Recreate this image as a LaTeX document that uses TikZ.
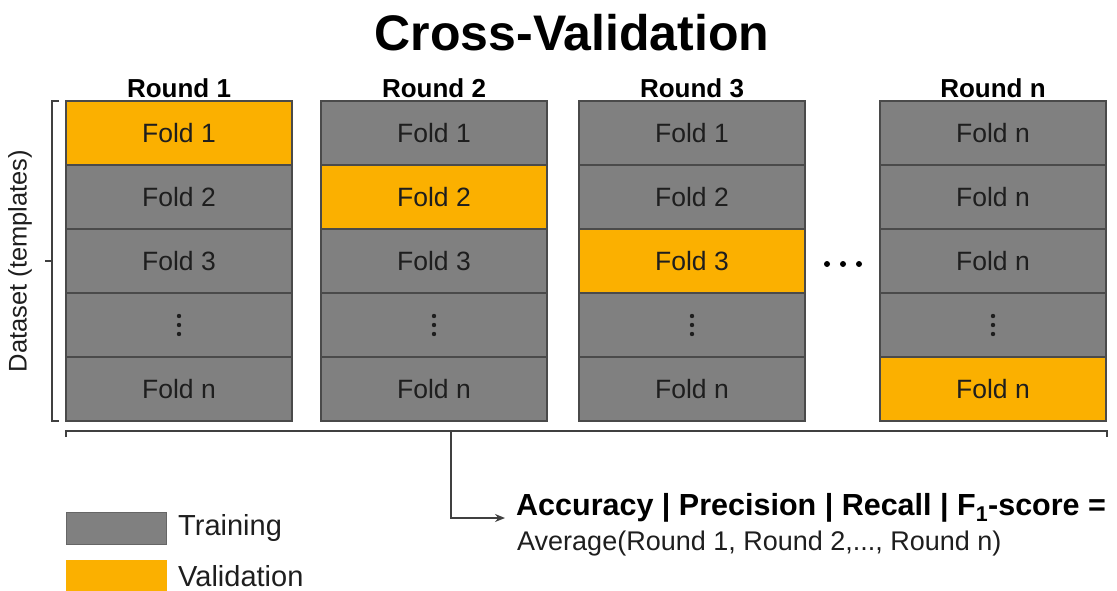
\documentclass[tikz,border=0pt]{standalone}
\usepackage{fontspec}
\setmainfont{Liberation Sans}
\usetikzlibrary{arrows.meta}
\definecolor{foldgray}{HTML}{808080}
\definecolor{foldline}{HTML}{4A4A4A}
\definecolor{valorange}{HTML}{FBB000}
\definecolor{textdark}{HTML}{1E1E1E}
\definecolor{bracketc}{HTML}{404040}
\tikzset{
  fold/.style={rectangle, draw=foldline, line width=1.3pt, minimum width=226pt, minimum height=64pt, inner sep=0pt,
    fill=foldgray, text=textdark, font=\fontsize{26.5}{28}\selectfont},
  valfold/.style={fold, fill=valorange},
  roundlabel/.style={font=\bfseries\fontsize{26}{28}\selectfont, text=black, inner sep=0pt},
  bracket/.style={draw=bracketc, line width=1.6pt},
  legendbox/.style={rectangle, minimum width=100pt, minimum height=32pt, inner sep=0pt, draw=foldgray!80!black, line width=0.6pt},
  legendtext/.style={anchor=west, font=\fontsize{29}{31}\selectfont, text=textdark, inner sep=0pt},
  vdot/.style={fill=textdark}
}
\newcommand{\folddots}[1]{\fill[vdot] ([yshift=-9pt]#1.center) circle (2.2pt) (#1.center) circle (2.2pt) ([yshift=9pt]#1.center) circle (2.2pt);}
\begin{document}
\begin{tikzpicture}[x=1pt,y=-1pt]
\useasboundingbox (0,0) rectangle (1117,591);
% title
\node[font=\bfseries\fontsize{50}{54}\selectfont, inner sep=0pt] (title) at (572,33) {Cross-Validation};
% round labels
\node[roundlabel] (l1) at (179,88) {Round 1};
\node[roundlabel] (l2) at (434,88) {Round 2};
\node[roundlabel] (l3) at (692,88) {Round 3};
\node[roundlabel] (ln) at (993,88) {Round n};
% Round 1
\node[valfold] (r1f1) at (179,133) {Fold 1};
\node[fold] (r1f2) at (179,197) {Fold 2};
\node[fold] (r1f3) at (179,261) {Fold 3};
\node[fold] (r1f4) at (179,325) {};
\node[fold] (r1f5) at (179,389) {Fold n};
% Round 2
\node[fold] (r2f1) at (434,133) {Fold 1};
\node[valfold] (r2f2) at (434,197) {Fold 2};
\node[fold] (r2f3) at (434,261) {Fold 3};
\node[fold] (r2f4) at (434,325) {};
\node[fold] (r2f5) at (434,389) {Fold n};
% Round 3
\node[fold] (r3f1) at (692,133) {Fold 1};
\node[fold] (r3f2) at (692,197) {Fold 2};
\node[valfold] (r3f3) at (692,261) {Fold 3};
\node[fold] (r3f4) at (692,325) {};
\node[fold] (r3f5) at (692,389) {Fold n};
% Round n
\node[fold] (rnf1) at (993,133) {Fold n};
\node[fold] (rnf2) at (993,197) {Fold n};
\node[fold] (rnf3) at (993,261) {Fold n};
\node[fold] (rnf4) at (993,325) {};
\node[valfold] (rnf5) at (993,389) {Fold n};
\folddots{r1f4}
\folddots{r2f4}
\folddots{r3f4}
\folddots{rnf4}
% ellipsis between rounds
\fill[black] (827,264) circle (3pt) (843,264) circle (3pt) (859,264) circle (3pt);
% left bracket
\coordinate (lbt) at (52,101);
\coordinate (lbb) at (52,421);
\coordinate (lbm) at (52,261);
\draw[bracket] ([xshift=7pt]lbt) -- (lbt) -- (lbb) -- ([xshift=7pt]lbb);
\draw[bracket] (lbm) -- ([xshift=-7pt]lbm);
\node[rotate=90, font=\fontsize{25.5}{27}\selectfont, text=textdark, inner sep=0pt] (dataset) at (20,261) {Dataset (templates)};
% bottom bracket
\coordinate (bbl) at (66,431);
\coordinate (bbr) at (1107,431);
\coordinate (bbm) at (451,431);
\draw[bracket] ([yshift=-6pt]bbl) -- (bbl) -- (bbr) -- ([yshift=-6pt]bbr);
% metrics
\node[anchor=west, font=\bfseries\fontsize{30.5}{32}\selectfont, inner sep=0pt] (metrics) at (516,508) {Accuracy | Precision | Recall | F\textsubscript{1}-score =};
\node[anchor=west, font=\fontsize{27}{29}\selectfont, text=textdark, inner sep=0pt] (avg) at (517,544) {Average(Round 1, Round 2,..., Round n)};
\coordinate (arrowend) at (505,518);
\draw[bracket, -{Stealth[length=10pt,width=8pt]}] (bbm) |- (arrowend);
% legend
\node[legendbox, fill=foldgray] (ltrain) at (116,528) {};
\node[legendtext] (ttrain) at (178,528) {Training};
\node[legendbox, fill=valorange, draw=valorange] (lval) at (116,576) {};
\node[legendtext] (tval) at (178,576) {Validation};
\end{tikzpicture}
\end{document}
